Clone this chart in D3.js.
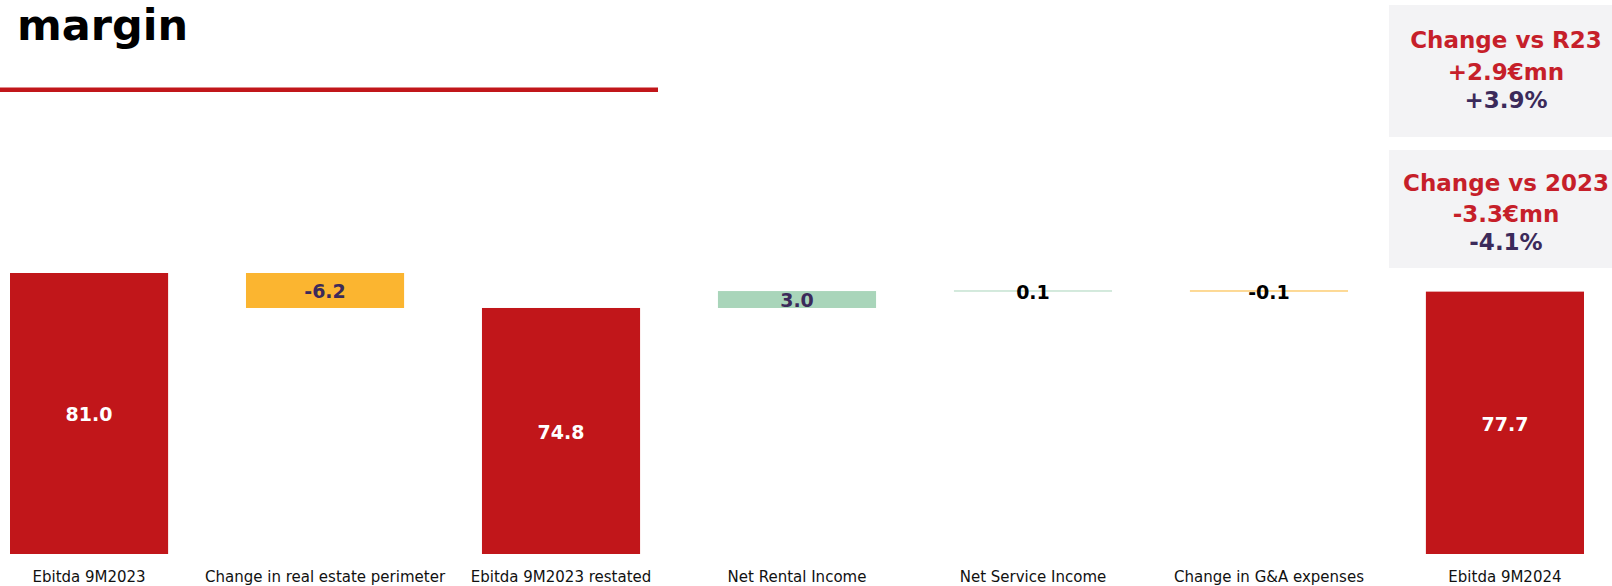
<!DOCTYPE html>
<html>
<head>
<meta charset="utf-8">
<script src="https://cdn.jsdelivr.net/npm/d3@7"></script>
<style>
  html, body { margin: 0; padding: 0; background: #fff; }
  svg { display: block; }
</style>
</head>
<body>
<svg id="chart" width="1612" height="586"></svg>
<script>
// EBITDA bridge 9M2023 -> 9M2024 (€mn)
const categories = [
  "Ebitda 9M2023",
  "Change in real estate perimeter",
  "Ebitda 9M2023 restated",
  "Net Rental Income",
  "Net Service Income",
  "Change in G&A expenses",
  "Ebitda 9M2024"
];
const values = [81.0, -6.2, 74.8, 3.0, 0.1, -0.1, 77.7];
const kinds = ["total", "delta", "total", "delta", "delta", "delta", "total"];
const titleText = "margin";
const compareTitles = ["Change vs R23", "Change vs 2023"];
const compareFrom = [2, 0];   // index of the reference total for each box
const compareTo = 6;          // index of the closing total

const svg = d3.select("#chart");

const fmt = d3.formatLocale({decimal: ".", thousands: ",", grouping: [3], currency: ["", ""], minus: "-"});
const f1 = fmt.format(".1f");
const fSigned = fmt.format("+.1f");

const RED = "#C1161A", ORANGE = "#FBB530", GREEN = "#A9D5BA";
const BOX_RED = "#C61F2A", PURPLE = "#3B2A5A";
const BOLD = "'DejaVu Sans', sans-serif";

// running totals for the waterfall segments
let running = 0;
const yFloor = 31.2;
const segs = values.map((v, i) => {
  let y0, y1;
  if (kinds[i] === "total") { y0 = yFloor; y1 = v; running = v; }
  else { y0 = running; y1 = running + v; running = y1; }
  return {cat: categories[i], value: v, kind: kinds[i], lo: Math.min(y0, y1), hi: Math.max(y0, y1)};
});

const x = d3.scaleBand().domain(categories).range([10, 1584]).paddingInner(0.33).paddingOuter(0);
const y = d3.scaleLinear().domain([yFloor, 81.0]).range([554, 273]);

// title and rule
svg.append("text")
  .attr("x", 17).attr("y", 40)
  .attr("font-family", BOLD).attr("font-weight", "bold").attr("font-size", 43)
  .attr("fill", "#000").text(titleText);
svg.append("rect").attr("x", 0).attr("y", 87.5).attr("width", 658).attr("height", 4.5).attr("fill", RED);

// bars
const colorOf = d => d.kind === "total" ? RED : (d.value >= 0 ? GREEN : ORANGE);
svg.append("g").selectAll("rect").data(segs).join("rect")
  .attr("x", d => x(d.cat))
  .attr("width", x.bandwidth())
  .attr("y", d => y(d.hi))
  .attr("height", d => Math.max(1, y(d.lo) - y(d.hi)))
  .attr("fill", colorOf);

// value labels
svg.append("g").selectAll("text").data(segs).join("text")
  .attr("x", d => x(d.cat) + x.bandwidth() / 2)
  .attr("y", d => (y(d.lo) + y(d.hi)) / 2 + 1)
  .attr("dy", "0.36em")
  .attr("text-anchor", "middle")
  .attr("font-family", BOLD).attr("font-weight", "bold").attr("font-size", 19)
  .attr("fill", d => d.kind === "total" ? "#fff" : (y(d.lo) - y(d.hi) > 10 ? PURPLE : "#000"))
  .text(d => f1(d.value));

// category axis
const xAxis = svg.append("g").attr("transform", "translate(0,554)")
  .call(d3.axisBottom(x).tickSize(0).tickPadding(0));
xAxis.select(".domain").remove();
xAxis.selectAll("text")
  .attr("y", 28).attr("dy", 0)
  .attr("font-family", "'DejaVu Sans', sans-serif").attr("font-size", 15).attr("fill", "#111");

// comparison boxes
const boxes = [{y: 5, h: 132}, {y: 150, h: 118}];
boxes.forEach((b, k) => {
  const from = values[compareFrom[k]], to = values[compareTo];
  const diff = to - from, pct = diff / from * 100;
  const g = svg.append("g");
  g.append("rect").attr("x", 1389).attr("y", b.y).attr("width", 240).attr("height", b.h).attr("fill", "#F3F3F5");
  const lines = [
    {t: compareTitles[k], c: BOX_RED},
    {t: fSigned(diff) + "€mn", c: BOX_RED},
    {t: fSigned(pct) + "%", c: PURPLE}
  ];
  const base = k === 0 ? [48, 80, 108] : [191, 222, 250];
  lines.forEach((ln, j) => {
    g.append("text")
      .attr("x", 1506).attr("y", base[j])
      .attr("text-anchor", "middle")
      .attr("font-family", BOLD).attr("font-weight", "bold").attr("font-size", 23)
      .attr("fill", ln.c).text(ln.t);
  });
});
</script>
</body>
</html>
